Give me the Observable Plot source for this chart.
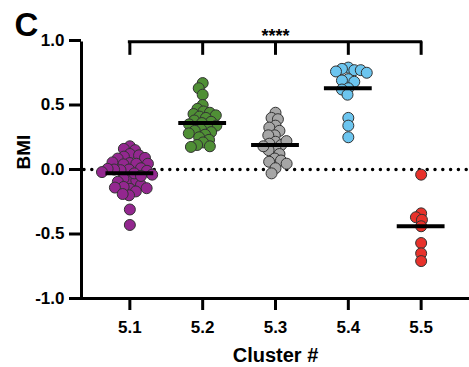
<!DOCTYPE html>
<html>
<head>
<meta charset="utf-8">
<script src="https://cdn.jsdelivr.net/npm/d3@7"></script>
<script src="https://cdn.jsdelivr.net/npm/@observablehq/plot@0.6"></script>
<style>
  html, body { margin: 0; padding: 0; background: #fff; }
</style>
</head>
<body>
<div id="chart"></div>
<script>
const clusters = ["5.1", "5.2", "5.3", "5.4", "5.5"];
const bmi51 = [0.18, 0.16, 0.15, 0.12, 0.10, 0.11, 0.085, 0.09, 0.05, 0.04, 0.045, 0.055, 0.045,
  0.01, 0.0, -0.005, 0.0, -0.01, 0.005, -0.08, -0.07, -0.085, -0.095, -0.15, -0.135, -0.12,
  -0.14, -0.145, -0.17, -0.2, -0.19, -0.31, -0.43, -0.03, -0.04, -0.05, -0.02];
const bmi52 = [0.67, 0.63, 0.58, 0.50, 0.47, 0.45, 0.44, 0.43, 0.42, 0.41, 0.40, 0.38, 0.37, 0.36,
  0.35, 0.34, 0.33, 0.31, 0.30, 0.29, 0.28, 0.27, 0.25, 0.23, 0.21, 0.19, 0.18, 0.175];
const bmi53 = [0.44, 0.40, 0.39, 0.34, 0.325, 0.30, 0.265, 0.265, 0.215, 0.20, 0.19, 0.16, 0.15,
  0.12, 0.085, 0.07, 0.06, 0.045, 0.01, -0.03, 0.22, 0.18];
const bmi54 = [0.79, 0.78, 0.77, 0.77, 0.76, 0.75, 0.70, 0.69, 0.68, 0.63, 0.62, 0.58, 0.40, 0.34, 0.25];
const bmi55 = [-0.04, -0.34, -0.37, -0.39, -0.44, -0.57, -0.65, -0.71];
const medians = [-0.03, 0.36, 0.19, 0.63, -0.44];
const colors = ["#93278f", "#4f8f35", "#a6a6a6", "#6cc5ef", "#e8322b"];
const yTicks = [-1, -0.5, 0, 0.5, 1];
const bracketY = [0.885, 0.99];
const sigLabel = "****";

const series = [bmi51, bmi52, bmi53, bmi54, bmi55];
const points = clusters.flatMap((c, i) => series[i].map(v => ({cluster: c, bmi: v})));
const medRows = clusters.map((c, i) => ({cluster: c, median: medians[i]}));

const font = "Liberation Sans, Arial, Helvetica, sans-serif";
const padOuter = 0.164;
const mL = 81, mR = 0, W = 469;
const n = clusters.length;
const step = (W - mL - mR) / (n + 2 * padOuter);
const outerPx = padOuter * step;
const first = [{cluster: clusters[0]}];

const chart = Plot.plot({
  width: W,
  height: 367,
  marginLeft: mL,
  marginRight: mR,
  marginTop: 40,
  marginBottom: 69,
  style: {fontFamily: font, fontWeight: "bold", background: "#fff", color: "#000"},
  fx: {domain: clusters, paddingInner: 0, paddingOuter: padOuter, round: false, label: null},
  y: {domain: [-1, 1]},
  color: {domain: clusters, range: colors},
  marks: [
    // dotted zero line, drawn once from the first facet across the whole frame
    Plot.ruleY(first, {fx: "cluster", y: () => 0, stroke: "#000", strokeWidth: 3.5,
      strokeDasharray: "0 7.8", strokeLinecap: "round",
      insetLeft: -outerPx + 3, insetRight: -((n - 1) * step + outerPx)}),
    // axis lines
    Plot.ruleY(first, {fx: "cluster", y: () => -1, stroke: "#000", strokeWidth: 3,
      insetLeft: -outerPx - 1.5, insetRight: -((n - 1) * step + outerPx)}),
    Plot.ruleX(first, {fx: "cluster", x: null, y1: () => -1, y2: () => 1, stroke: "#000", strokeWidth: 3,
      dx: -(outerPx + step / 2), insetBottom: -1.5}),
    Plot.axisY({ticks: yTicks, tickFormat: d => d.toFixed(1), tickSize: 12, tickPadding: 5, dx: -outerPx,
      fontSize: 17, strokeWidth: 3, label: null}),
    Plot.axisFx({anchor: "bottom", tickSize: 12, tickPadding: 10, fontSize: 17, strokeWidth: 3, label: null}),
    Plot.dot(points, Plot.dodgeX({anchor: "middle", padding: -4.5}, {
      fx: "cluster", y: "bmi", r: 5.5,
      fill: "cluster", stroke: "#333", strokeWidth: 1
    })),
    Plot.tickY(medRows, {fx: "cluster", y: "median", stroke: "#000", strokeWidth: 4, insetLeft: 12.5, insetRight: 12.5}),
    // significance bracket
    Plot.ruleY(first, {fx: "cluster", y: () => bracketY[1], stroke: "#000", strokeWidth: 3,
      insetLeft: step / 2 - 1.5, insetRight: -((n - 1) * step - step / 2) - 1.5}),
    Plot.ruleX(clusters, {fx: d => d, x: null, y1: () => bracketY[0], y2: () => bracketY[1], stroke: "#000", strokeWidth: 3}),
    Plot.text([sigLabel], {facet: "super", frameAnchor: "top", dy: -4, lineAnchor: "middle", fontSize: 18}),
    Plot.text(["Cluster #"], {facet: "super", frameAnchor: "bottom", dy: 57, lineAnchor: "middle", fontSize: 20}),
    Plot.text(["BMI"], {facet: "super", frameAnchor: "left", dx: -70, rotate: -90, lineAnchor: "middle", fontSize: 19}),
    Plot.text(["C"], {facet: "super", frameAnchor: "top-left", dx: -79, dy: -15, textAnchor: "start", lineAnchor: "middle", fontSize: 33})
  ]
});
document.getElementById("chart").appendChild(chart);
</script>
</body>
</html>
